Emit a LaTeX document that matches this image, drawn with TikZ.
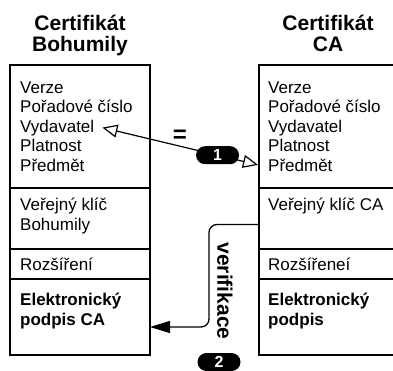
\documentclass[tikz,border=0pt]{standalone}
\usepackage{fontspec}
\setmainfont{Liberation Sans}
\usetikzlibrary{arrows.meta}
\begin{document}
\begin{tikzpicture}[x=1pt,y=-1pt,
  sect/.style={draw, line width=1.3pt, minimum width=140pt, anchor=north west,
    inner sep=0pt, outer sep=0pt},
  txt/.style={anchor=base west, inner sep=0pt, font=\fontsize{17}{19.5}\selectfont},
  btxt/.style={anchor=base west, inner sep=0pt, font=\fontsize{17}{19.5}\selectfont\bfseries},
  title/.style={font=\fontsize{21}{21}\selectfont\bfseries, align=center,
    anchor=base, inner sep=0pt},
  pill/.style={fill=black, text=white, rounded corners=9pt, minimum width=43pt,
    minimum height=18pt, inner sep=0pt, font=\fontsize{16}{16}\selectfont\bfseries},
  opentip/.tip={Triangle[open, length=15pt, width=13pt]},
  filltip/.tip={Triangle[length=20pt, width=12pt]},
]
\useasboundingbox (0,0) rectangle (393,370);
\clip (0,0) rectangle (393,370);

% titles (base anchor = baseline of the last line)
\node[title] (tL) at (80,51) {Certifikát\\Bohumily};
\node[title] (tR) at (328,51) {Certifikát\\CA};

% left certificate
\node[sect, minimum height=123pt] (lHead) at (10,65) {};
\node[sect, minimum height=61pt]  (lKey)  at (10,188) {};
\node[sect, minimum height=30pt]  (lExt)  at (10,249) {};
\node[sect, minimum height=76pt]  (lSig)  at (10,279) {};

\node[txt] (verL) at (20,93)    {Verze};
\node[txt] (porL) at (20,112.5) {Pořadové číslo};
\node[txt] (vydL) at (20,132)   {Vydavatel};
\node[txt] (plaL) at (20,151.5) {Platnost};
\node[txt] (preL) at (20,171)   {Předmět};
\node[txt] (keyL1) at (20,210.5) {Veřejný klíč};
\node[txt] (keyL2) at (20,230)   {Bohumily};
\node[txt] (extL) at (20,270)    {Rozšíření};
\node[btxt] (sigL1) at (20,305)  {Elektronický};
\node[btxt] (sigL2) at (20,325)  {podpis CA};

% CA certificate
\node[sect, minimum height=123pt] (rHead) at (259,65) {};
\node[sect, minimum height=61pt]  (rKey)  at (259,188) {};
\node[sect, minimum height=30pt]  (rExt)  at (259,249) {};
\node[sect, minimum height=76pt]  (rSig)  at (259,279) {};

\node[txt] (verR) at (268,93)    {Verze};
\node[txt] (porR) at (268,112.5) {Pořadové číslo};
\node[txt] (vydR) at (268,132)   {Vydavatel};
\node[txt] (plaR) at (268,151.5) {Platnost};
\node[txt] (preR) at (268,171)   {Předmět};
\node[txt] (keyR) at (268,210.5) {Veřejný klíč CA};
\node[txt] (extR) at (268,270)   {Rozšířeneí};
\node[btxt] (sigR1) at (268,305) {Elektronický};
\node[btxt] (sigR2) at (268,325) {podpis};

% step 1: issuer equals subject
\node[font=\fontsize{24}{24}\selectfont\bfseries, inner sep=0pt] (eq) at (180,136) {=};
\draw[opentip-opentip, line width=1.2pt]
  ([xshift=8pt]vydL.east) -- node[pill, pos=0.74] (s1) {1} ([xshift=-10pt]preR.west);

% step 2: signature verification with the CA key
\draw[-filltip, line width=1.3pt, rounded corners=8pt]
  ([yshift=-6pt]rKey.west) -- ++(-50,0) |- ([yshift=-10pt]lSig.east);
\node[font=\fontsize{21}{21}\selectfont\bfseries, rotate=-90, inner sep=0pt] (ver) at (225,291) {verifikace};
\node[pill] (s2) at (219,362) {2};
\end{tikzpicture}
\end{document}
